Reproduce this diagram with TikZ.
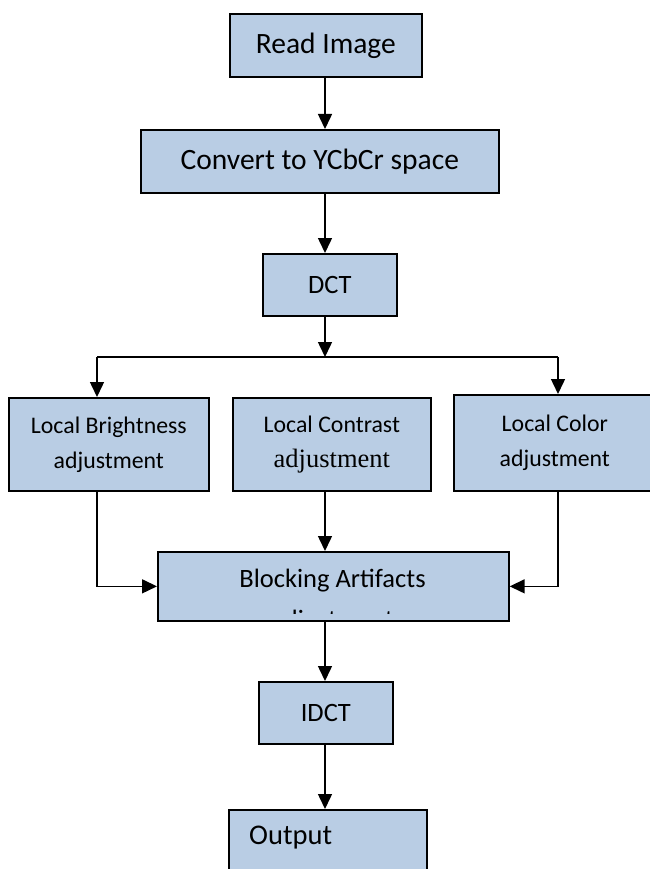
\documentclass[tikz,border=0pt]{standalone}
\usepackage{fontspec}
\setmainfont{Carlito}
\newfontfamily\tmsfont{Liberation Serif}
\usetikzlibrary{arrows.meta}
\definecolor{boxblue}{RGB}{185,205,228}
\begin{document}
\begin{tikzpicture}[x=1pt,y=-1pt,
  box/.style={draw=black, line width=1.7pt, fill=boxblue, inner sep=0pt, anchor=north west, align=center},
  huge/.style={font=\fontsize{29.5}{34}\selectfont},
  big/.style={font=\fontsize{26.5}{30}\selectfont},
  outf/.style={font=\fontsize{28.5}{32}\selectfont},
  small/.style={font=\fontsize{23.8}{35}\selectfont},
  conn/.style={line width=1.5pt},
  arr/.style={conn, -{Triangle[length=15pt,width=14pt]}}]
\useasboundingbox (0,0) rectangle (649,869);
\node[box,huge,minimum width=192pt,minimum height=63pt] (read) at (229,13) {Read Image};
\node[box,huge,minimum width=358pt,minimum height=63pt] (conv) at (140,129) {Convert to YCbCr space};
\node[box,big,minimum width=134pt,minimum height=62pt] (dct) at (262,253) {DCT};
\node[box,small,minimum width=200pt,minimum height=93pt] (lb) at (8,397) {Local Brightness\\adjustment};
\node[box,small,minimum width=198pt,minimum height=93pt] (mc) at (232,397) {Local Contrast\\{\tmsfont\fontsize{26.5}{35}\selectfont adjustment}};
\node[box,small,minimum width=202pt,minimum height=96pt] (rc) at (453,394) {Local Color\\adjustment};
\node[box,minimum width=351pt,minimum height=69pt] (blk) at (157,551) {};
\begin{scope}
  \clip (157,551) rectangle (508,613.3);
  \node[big,inner sep=0pt,anchor=base] (blk1) at (332.5,587) {Blocking Artifacts};
  \node[big,inner sep=0pt,anchor=base] (blk2) at (332.5,628) {adjustment};
\end{scope}
\node[box,minimum width=134pt,minimum height=62pt] (idct) at (258,681) {};
\node[big,inner sep=0pt] (idcttxt) at (idct.center) {IDCT};
\node[box,minimum width=198pt,minimum height=80pt] (out) at (228,809) {};
\node[outf,inner sep=0pt,anchor=west] (outtxt) at (249,838) {Output};
\coordinate (sp) at (325,0);
\coordinate (bm) at (325,357);
\coordinate (bl) at (97,357);
\coordinate (bR) at (558,357);
\draw[arr] (read.south -| sp) -- (conv.north -| sp);
\draw[arr] (conv.south -| sp) -- (dct.north -| sp);
\draw[arr] (dct.south -| sp) -- (bm);
\draw[conn] (bl) -- (bR);
\draw[arr] (bl) -- (lb.north -| bl);
\draw[arr] (bR) -- (rc.north -| bR);
\draw[arr] (mc.south -| sp) -- (blk.north -| sp);
\draw[arr] (lb.south -| bl) |- (blk.west);
\draw[arr] (rc.south -| bR) |- (blk.east);
\draw[arr] (blk.south -| sp) -- (idct.north -| sp);
\draw[arr] (idct.south -| sp) -- (out.north -| sp);
\end{tikzpicture}
\end{document}
